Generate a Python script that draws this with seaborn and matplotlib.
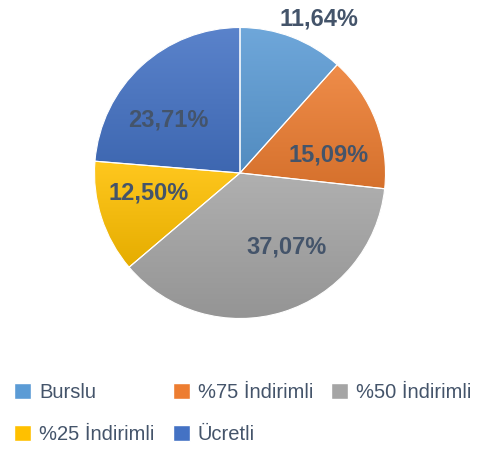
import numpy as np
import matplotlib
matplotlib.use("Agg")
import matplotlib.pyplot as plt
import matplotlib.colors as mcolors
import seaborn as sns

# data
kategoriler = ["Burslu", "%75 İndirimli", "%50 İndirimli", "%25 İndirimli", "Ücretli"]
oranlar = [11.64, 15.09, 37.07, 12.50, 23.71]
renkler = ["#5B9BD5", "#ED7D31", "#A5A5A5", "#FFC000", "#4472C4"]

# label placement tweaks (angle shift in deg, radius) to mimic excel
etiket_kayma = [-6, -9.5, 15, -5.4, 11]
etiket_r = [1.19, 0.62, 0.60, 0.64, 0.61]

sns.set_theme(style="white")
plt.rcParams['font.family'] = ['Liberation Sans', 'DejaVu Sans']

fig = plt.figure(figsize=(4.82, 4.50), dpi=100)
# square axes in pixels: centre (240,173), radius ~146
ax = fig.add_axes([94.5 / 482, 131.5 / 450, 291 / 482, 291 / 450])

def fmt(p):
    return f"{p:.2f}%".replace(".", ",")

wedges, texts, autotexts = ax.pie(
    oranlar, colors=renkler, startangle=90, counterclock=False,
    autopct=fmt, pctdistance=0.62, radius=1,
    wedgeprops=dict(edgecolor="white", linewidth=0.8),
    textprops=dict(color="#44546A", fontsize=17, fontweight="bold"))

# excel-like vertical gradient inside each wedge
for w, c in zip(wedges, renkler):
    base = np.array(mcolors.to_rgb(c))
    top = base + (1 - base) * 0.12
    bot = base * 0.9
    bb = w.get_path().get_extents(w.get_transform() + ax.transData.inverted())
    t = np.linspace(0, 1, 256)[:, None]
    grad = (top[None, :] * (1 - t) + bot[None, :] * t)[:, None, :]
    im = ax.imshow(grad, extent=[bb.x0, bb.x1, bb.y0, bb.y1], origin="upper",
                   aspect="auto", zorder=w.get_zorder() + 0.1, interpolation="bilinear")
    im.set_clip_path(w)
    ed = matplotlib.patches.Wedge(w.center, w.r, w.theta1, w.theta2, facecolor="none",
                                  edgecolor="white", linewidth=0.8, zorder=w.get_zorder() + 0.2)
    ax.add_patch(ed)

for w, t, dk, r in zip(wedges, autotexts, etiket_kayma, etiket_r):
    ang = np.deg2rad((w.theta1 + w.theta2) / 2 + dk)
    t.set_position((r * np.cos(ang), r * np.sin(ang)))
    t.set_zorder(5)

ax.set_xlim(-1, 1)
ax.set_ylim(-1, 1)
ax.axis("off")

# legend, row-wise order
sira = [0, 3, 1, 4, 2]
handles = [matplotlib.patches.Patch(facecolor=renkler[i]) for i in sira]
labels = [kategoriler[i] for i in sira]
fig.legend(handles, labels, loc="upper left", bbox_to_anchor=(0.008, 0.172),
           ncol=3, frameon=False, fontsize=14.5, handlelength=0.85, handleheight=0.85,
           handletextpad=0.4, columnspacing=0.9, labelspacing=1.15,
           labelcolor="#44546A", borderaxespad=0.3, borderpad=0.2)

fig.savefig("out.png", dpi=100)
